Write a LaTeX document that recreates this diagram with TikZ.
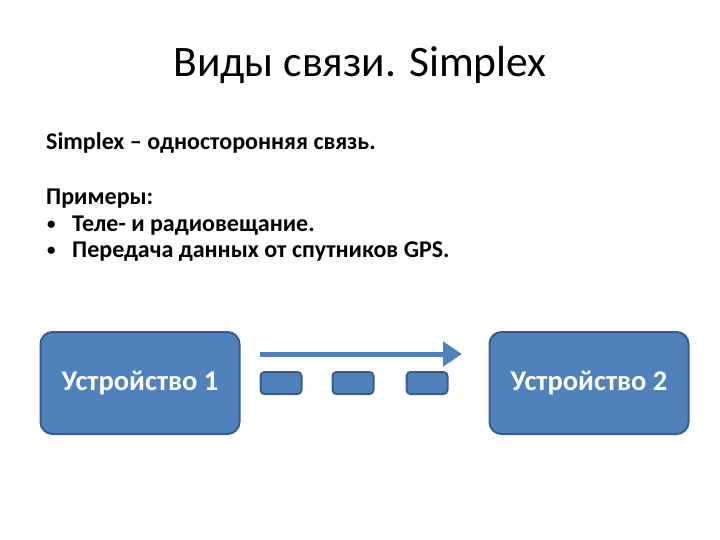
\documentclass[tikz,border=0pt]{standalone}
\usepackage{fontspec}
\setmainfont{Carlito}
\usetikzlibrary{arrows.meta}
\definecolor{slideblue}{HTML}{4F81BD}
\definecolor{slideedge}{HTML}{385D8A}
\tikzset{
        device/.style={draw=slideedge, line width=2pt, fill=slideblue, rounded corners=12pt,
          minimum width=199pt, minimum height=102pt, text=white, font=\fontsize{28.5}{34}\selectfont\bfseries},
        packet/.style={draw=slideedge, line width=2pt, fill=slideblue, rounded corners=4pt,
          minimum width=41pt, minimum height=22pt},
        flow/.style={draw=slideblue, line width=5pt, -{Triangle[length=19pt,width=24pt]}},
        bodytext/.style={anchor=base west, inner sep=0pt, font=\fontsize{24}{29}\selectfont\bfseries},
        titletext/.style={anchor=base, inner sep=0pt, font=\fontsize{43.5}{52}\selectfont}
          }
\newcommand{\dotitem}{\makebox[26pt][l]{\hspace{1pt}\raisebox{2pt}{\fontsize{17}{17}\selectfont•}}}
\begin{document}
\begin{tikzpicture}[x=1pt, y=-1pt]
        \useasboundingbox (0,0) rectangle (720,540);
        \node[titletext] (title) at (360,77) {Виды связи. Simplex};
        \node[bodytext] (def) at (46,150) {Simplex – односторонняя связь.};
        \node[bodytext] (ex) at (46,205) {Примеры:};
        \node[bodytext] (b1) at (46,232) {\dotitem Теле- и радиовещание.};
        \node[bodytext] (b2) at (46,258) {\dotitem Передача данных от спутников GPS.};
        \node[device] (dev1) at (140,383) {Устройство 1};
        \node[device] (dev2) at (589,383) {Устройство 2};
        \foreach \x [count=\i] in {281,353,427}
          \node[packet] (p\i) at (\x,383) {};
        \coordinate (from) at (260,354);
        \coordinate (to) at (462,354);
        \draw[flow] (from) -- (to);
      \end{tikzpicture}
\end{document}
